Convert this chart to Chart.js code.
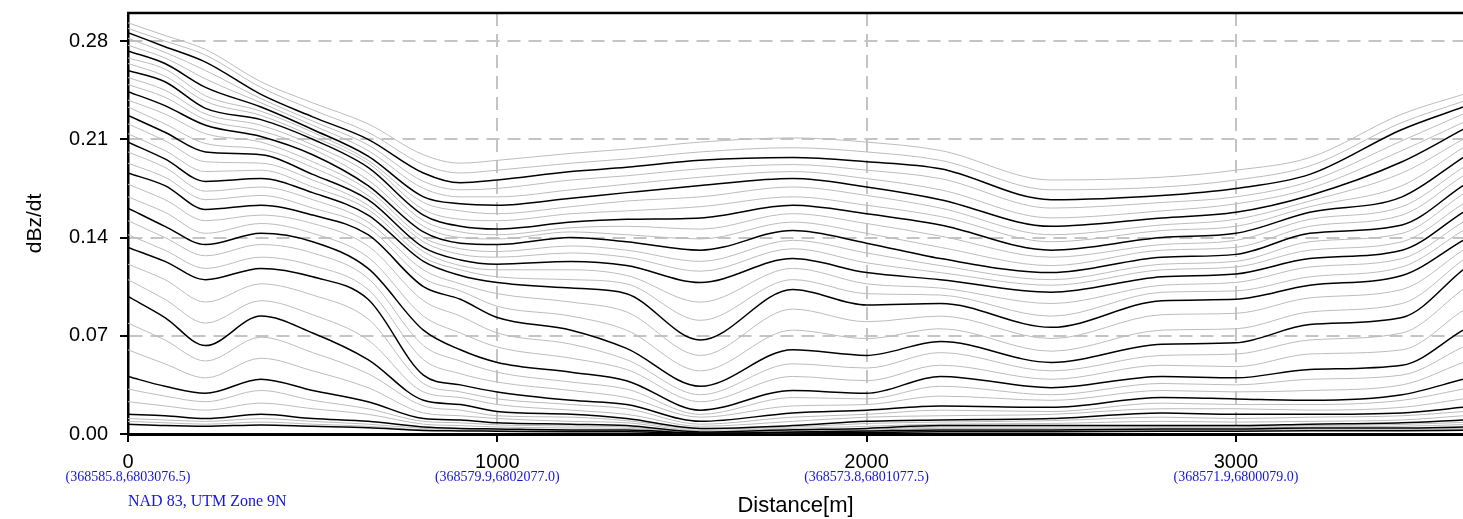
<!DOCTYPE html>
<html>
<head>
<meta charset="utf-8">
<script src="https://cdn.jsdelivr.net/npm/chart.js@4.4.1/dist/chart.umd.min.js"></script>
<style>
  html, body { margin: 0; padding: 0; background: #fff; }
  #box { width: 1463px; height: 519px; position: relative; }
</style>
</head>
<body>
<div id="box"><canvas id="profile"></canvas></div>
<script>
// distance along the line (m)
const distance = [0, 100, 210, 360, 500, 650, 800, 900, 1000, 1200, 1350, 1550, 1800, 2000, 2200, 2500, 2800, 3000, 3200, 3450, 3615];

const xTicks = [0, 1000, 2000, 3000];
const xCoords = ["(368585.8,6803076.5)", "(368579.9,6802077.0)", "(368573.8,6801077.5)", "(368571.9,6800079.0)"];
const yTicks = [0, 0.07, 0.14, 0.21, 0.28];

// dBz/dt channels, early (top) to late (bottom)
const c01 = [0.293, 0.284, 0.274, 0.251, 0.236, 0.221, 0.199, 0.193, 0.195, 0.200, 0.203, 0.208, 0.211, 0.208, 0.202, 0.181, 0.183, 0.188, 0.197, 0.228, 0.242];
const c02 = [0.289, 0.280, 0.270, 0.247, 0.231, 0.215, 0.192, 0.186, 0.188, 0.193, 0.196, 0.201, 0.204, 0.201, 0.195, 0.174, 0.176, 0.181, 0.191, 0.222, 0.237];
const c03 = [0.286, 0.276, 0.265, 0.242, 0.226, 0.210, 0.186, 0.179, 0.181, 0.187, 0.190, 0.195, 0.197, 0.194, 0.189, 0.167, 0.170, 0.175, 0.185, 0.217, 0.233];
const c04 = [0.282, 0.272, 0.259, 0.239, 0.223, 0.206, 0.180, 0.174, 0.175, 0.181, 0.184, 0.189, 0.192, 0.188, 0.182, 0.161, 0.165, 0.169, 0.180, 0.209, 0.228];
const c05 = [0.277, 0.268, 0.253, 0.236, 0.220, 0.202, 0.175, 0.169, 0.169, 0.174, 0.178, 0.183, 0.187, 0.182, 0.174, 0.154, 0.159, 0.164, 0.175, 0.202, 0.222];
const c06 = [0.273, 0.264, 0.247, 0.233, 0.217, 0.198, 0.169, 0.164, 0.163, 0.168, 0.172, 0.177, 0.182, 0.176, 0.167, 0.148, 0.154, 0.158, 0.170, 0.194, 0.217];
const c07 = [0.268, 0.260, 0.241, 0.230, 0.215, 0.195, 0.165, 0.159, 0.157, 0.162, 0.166, 0.169, 0.176, 0.170, 0.161, 0.142, 0.149, 0.153, 0.166, 0.186, 0.210];
const c08 = [0.264, 0.255, 0.237, 0.227, 0.212, 0.193, 0.160, 0.153, 0.152, 0.157, 0.159, 0.162, 0.169, 0.163, 0.155, 0.137, 0.145, 0.148, 0.162, 0.177, 0.204];
const c09 = [0.259, 0.251, 0.232, 0.224, 0.210, 0.190, 0.156, 0.148, 0.146, 0.151, 0.153, 0.154, 0.163, 0.157, 0.149, 0.131, 0.140, 0.143, 0.158, 0.169, 0.197];
const c10 = [0.254, 0.245, 0.228, 0.220, 0.206, 0.186, 0.152, 0.144, 0.142, 0.147, 0.148, 0.146, 0.157, 0.150, 0.141, 0.126, 0.135, 0.138, 0.153, 0.162, 0.190];
const c11 = [0.249, 0.240, 0.224, 0.216, 0.203, 0.181, 0.148, 0.140, 0.139, 0.144, 0.142, 0.139, 0.151, 0.143, 0.133, 0.120, 0.131, 0.133, 0.148, 0.156, 0.184];
const c12 = [0.244, 0.234, 0.220, 0.212, 0.199, 0.177, 0.144, 0.136, 0.135, 0.140, 0.137, 0.131, 0.145, 0.136, 0.125, 0.115, 0.126, 0.128, 0.143, 0.149, 0.177];
const c13 = [0.238, 0.228, 0.214, 0.208, 0.194, 0.174, 0.140, 0.132, 0.130, 0.134, 0.131, 0.123, 0.138, 0.129, 0.120, 0.110, 0.121, 0.123, 0.137, 0.143, 0.171];
const c14 = [0.233, 0.221, 0.207, 0.203, 0.190, 0.170, 0.137, 0.128, 0.126, 0.129, 0.126, 0.116, 0.132, 0.122, 0.115, 0.106, 0.117, 0.119, 0.131, 0.137, 0.164];
const c15 = [0.227, 0.215, 0.201, 0.199, 0.185, 0.167, 0.133, 0.124, 0.121, 0.123, 0.120, 0.108, 0.125, 0.115, 0.110, 0.101, 0.112, 0.114, 0.125, 0.131, 0.158];
const c16 = [0.221, 0.209, 0.194, 0.193, 0.181, 0.163, 0.130, 0.120, 0.117, 0.117, 0.113, 0.094, 0.118, 0.107, 0.104, 0.093, 0.106, 0.108, 0.119, 0.125, 0.151];
const c17 = [0.214, 0.202, 0.187, 0.188, 0.176, 0.160, 0.126, 0.117, 0.112, 0.110, 0.107, 0.081, 0.110, 0.100, 0.099, 0.084, 0.101, 0.102, 0.112, 0.119, 0.145];
const c18 = [0.208, 0.196, 0.180, 0.182, 0.172, 0.156, 0.123, 0.113, 0.108, 0.104, 0.100, 0.067, 0.103, 0.092, 0.093, 0.076, 0.095, 0.096, 0.106, 0.113, 0.138];
const c19 = [0.201, 0.190, 0.173, 0.176, 0.167, 0.151, 0.117, 0.107, 0.100, 0.094, 0.087, 0.056, 0.089, 0.080, 0.084, 0.068, 0.085, 0.086, 0.097, 0.103, 0.131];
const c20 = [0.193, 0.183, 0.167, 0.170, 0.161, 0.147, 0.111, 0.102, 0.091, 0.084, 0.074, 0.045, 0.074, 0.068, 0.075, 0.059, 0.074, 0.075, 0.087, 0.093, 0.124];
const c21 = [0.186, 0.177, 0.160, 0.163, 0.156, 0.142, 0.105, 0.096, 0.083, 0.074, 0.061, 0.034, 0.060, 0.056, 0.066, 0.051, 0.064, 0.065, 0.078, 0.083, 0.117];
const c22 = [0.178, 0.167, 0.152, 0.156, 0.150, 0.134, 0.095, 0.084, 0.072, 0.064, 0.053, 0.028, 0.050, 0.047, 0.058, 0.045, 0.056, 0.057, 0.067, 0.072, 0.103];
const c23 = [0.169, 0.158, 0.143, 0.150, 0.143, 0.126, 0.084, 0.072, 0.062, 0.054, 0.046, 0.023, 0.041, 0.038, 0.049, 0.039, 0.049, 0.048, 0.057, 0.060, 0.088];
const c24 = [0.161, 0.148, 0.135, 0.143, 0.137, 0.118, 0.074, 0.060, 0.051, 0.044, 0.038, 0.017, 0.031, 0.029, 0.041, 0.033, 0.041, 0.040, 0.046, 0.049, 0.074];
const c25 = [0.152, 0.140, 0.127, 0.135, 0.129, 0.111, 0.063, 0.052, 0.044, 0.037, 0.032, 0.014, 0.026, 0.025, 0.034, 0.028, 0.036, 0.035, 0.039, 0.042, 0.062];
const c26 = [0.142, 0.131, 0.118, 0.126, 0.120, 0.103, 0.053, 0.043, 0.037, 0.031, 0.026, 0.012, 0.020, 0.021, 0.027, 0.024, 0.031, 0.030, 0.031, 0.035, 0.051];
const c27 = [0.133, 0.123, 0.110, 0.118, 0.112, 0.096, 0.042, 0.035, 0.030, 0.024, 0.021, 0.009, 0.015, 0.017, 0.020, 0.019, 0.026, 0.025, 0.024, 0.028, 0.039];
const c28 = [0.121, 0.110, 0.094, 0.107, 0.099, 0.082, 0.036, 0.030, 0.025, 0.021, 0.018, 0.007, 0.012, 0.014, 0.017, 0.016, 0.022, 0.021, 0.021, 0.024, 0.032];
const c29 = [0.110, 0.096, 0.079, 0.095, 0.085, 0.067, 0.030, 0.026, 0.021, 0.017, 0.014, 0.0055, 0.009, 0.012, 0.013, 0.014, 0.018, 0.018, 0.017, 0.019, 0.025];
const c30 = [0.098, 0.083, 0.063, 0.084, 0.072, 0.053, 0.024, 0.021, 0.016, 0.014, 0.011, 0.004, 0.006, 0.009, 0.010, 0.011, 0.015, 0.014, 0.014, 0.015, 0.019];
const c31 = [0.079, 0.067, 0.052, 0.069, 0.058, 0.043, 0.020, 0.017, 0.013, 0.012, 0.0095, 0.0035, 0.005, 0.0075, 0.0085, 0.0095, 0.012, 0.011, 0.012, 0.013, 0.016];
const c32 = [0.060, 0.050, 0.040, 0.054, 0.045, 0.033, 0.015, 0.013, 0.011, 0.009, 0.008, 0.0025, 0.004, 0.0055, 0.007, 0.0075, 0.009, 0.0085, 0.009, 0.010, 0.013];
const c33 = [0.041, 0.034, 0.029, 0.039, 0.031, 0.023, 0.011, 0.010, 0.008, 0.007, 0.006, 0.0015, 0.003, 0.004, 0.006, 0.006, 0.006, 0.006, 0.007, 0.008, 0.010];
const c34 = [0.032, 0.027, 0.023, 0.031, 0.024, 0.018, 0.009, 0.008, 0.0065, 0.0057, 0.005, 0.0012, 0.0025, 0.0034, 0.005, 0.005, 0.0052, 0.0052, 0.006, 0.0068, 0.0083];
const c35 = [0.023, 0.020, 0.017, 0.022, 0.018, 0.014, 0.007, 0.006, 0.005, 0.0043, 0.004, 0.001, 0.002, 0.0027, 0.004, 0.004, 0.0044, 0.0044, 0.005, 0.0055, 0.0067];
const c36 = [0.014, 0.013, 0.011, 0.014, 0.011, 0.009, 0.005, 0.004, 0.0036, 0.0029, 0.0029, 0.0007, 0.0014, 0.0021, 0.0029, 0.0029, 0.0036, 0.0036, 0.0043, 0.0043, 0.005];
const c37 = [0.011, 0.010, 0.009, 0.011, 0.009, 0.007, 0.004, 0.0034, 0.003, 0.0024, 0.0024, 0.0006, 0.0011, 0.0017, 0.0024, 0.0024, 0.003, 0.003, 0.0035, 0.0035, 0.004];
const c38 = [0.009, 0.008, 0.007, 0.0085, 0.007, 0.0055, 0.003, 0.0027, 0.0024, 0.002, 0.002, 0.0005, 0.0009, 0.0014, 0.002, 0.002, 0.0025, 0.0025, 0.0029, 0.0029, 0.0033];
const c39 = [0.007, 0.006, 0.0055, 0.0065, 0.0055, 0.0045, 0.0025, 0.0022, 0.002, 0.0016, 0.0016, 0.0004, 0.0007, 0.0011, 0.0016, 0.0016, 0.002, 0.002, 0.0023, 0.0023, 0.0027];

const channels = [c01, c02, c03, c04, c05, c06, c07, c08, c09, c10, c11, c12, c13, c14, c15, c16, c17, c18, c19, c20,
  c21, c22, c23, c24, c25, c26, c27, c28, c29, c30, c31, c32, c33, c34, c35, c36, c37, c38, c39];

// every third channel is drawn heavy, starting at c03
const datasets = channels.map((vals, i) => {
  const heavy = i % 3 === 2;
  return {
    label: "ch" + (i + 1),
    data: vals.map((v, k) => ({ x: distance[k], y: v })),
    borderColor: heavy ? "#000000" : "#bcbcbc",
    borderWidth: heavy ? 1.5 : 1,
    pointRadius: 0,
    cubicInterpolationMode: "monotone",
    order: heavy ? 0 : 1,
  };
});

const sans = "'Liberation Sans', Arial, sans-serif";
const serif = "'Liberation Serif', 'Times New Roman', serif";

// coordinate captions under the distance ticks, top frame line
const extras = {
  id: "extras",
  afterDraw(chart) {
    const { ctx, chartArea } = chart;
    const x = chart.scales.x;
    ctx.save();
    ctx.strokeStyle = "#000";
    ctx.lineWidth = 2.5;
    ctx.beginPath();
    ctx.moveTo(chartArea.left - 1, chartArea.top);
    ctx.lineTo(chartArea.right, chartArea.top);
    ctx.stroke();

    ctx.fillStyle = "#1414e6";
    ctx.font = "14px " + serif;
    ctx.textAlign = "center";
    ctx.textBaseline = "middle";
    xTicks.forEach((v, i) => {
      ctx.fillText(xCoords[i], x.getPixelForValue(v), 477);
    });
    ctx.font = "16px " + serif;
    ctx.textAlign = "left";
    ctx.fillText("NAD 83, UTM Zone 9N", chartArea.left, 502);
    ctx.restore();
  },
};

new Chart(document.getElementById("profile"), {
  type: "line",
  data: { datasets },
  options: {
    responsive: true,
    maintainAspectRatio: false,
    animation: false,
    devicePixelRatio: 1,
    layout: { padding: { top: 13, right: 0, left: 0, bottom: 0 } },
    plugins: { legend: { display: false }, tooltip: { enabled: false } },
    scales: {
      x: {
        type: "linear",
        min: 0,
        max: 3615,
        afterBuildTicks: (s) => { s.ticks = xTicks.map((v) => ({ value: v })); },
        afterFit: (s) => { s.height = 85; s.paddingLeft = 0; s.paddingRight = 0; },
        grid: { color: "#c4c4c4", lineWidth: 2, tickColor: "#000", tickWidth: 2, tickLength: 8 },
        border: { color: "#000", width: 3, dash: [13, 8] },
        ticks: { color: "#000", font: { family: sans, size: 20 }, padding: 8, maxRotation: 0, callback: (v) => String(v) },
        title: { display: true, text: "Distance[m]", color: "#000", font: { family: sans, size: 22 }, padding: { top: 0, bottom: 0 } },
      },
      y: {
        min: 0,
        max: 0.3,
        afterBuildTicks: (s) => { s.ticks = yTicks.map((v) => ({ value: v })); },
        afterFit: (s) => { s.width = 128; s.paddingTop = 0; s.paddingBottom = 0; },
        grid: { color: "#c4c4c4", lineWidth: 2, tickColor: "#000", tickWidth: 2, tickLength: 8 },
        border: { color: "#000", width: 2.5, dash: [13, 8] },
        ticks: { color: "#000", font: { family: sans, size: 20 }, padding: 12, callback: (v) => v.toFixed(2) },
        title: { display: true, text: "dBz/dt", color: "#000", font: { family: sans, size: 21 }, padding: { top: 23, bottom: 0 } },
      },
    },
  },
  plugins: [extras],
});
</script>
</body>
</html>
